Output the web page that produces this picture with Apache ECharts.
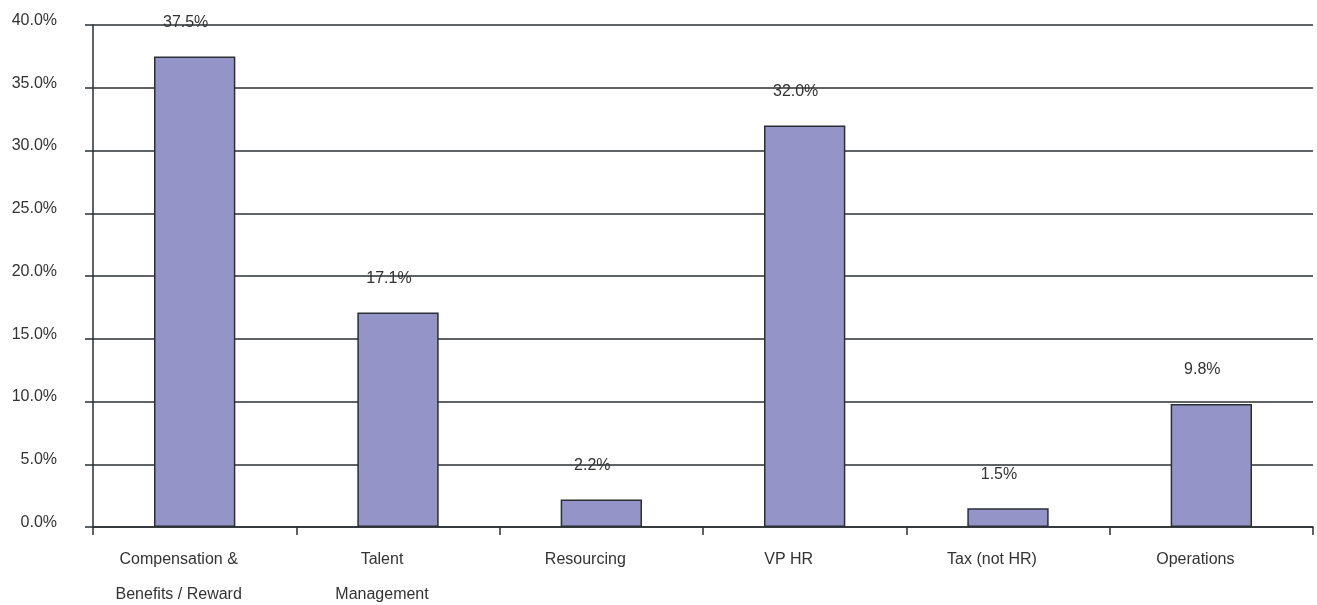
<!DOCTYPE html>
<html>
<head>
<meta charset="utf-8">
<script src="https://cdn.jsdelivr.net/npm/echarts@6/dist/echarts.min.js"></script>
<style>
  html, body { margin: 0; padding: 0; background: #ffffff; }
  #chart { width: 1317px; height: 605px; }
</style>
</head>
<body>
<div id="chart"></div>
<script>
// Share of respondents by HR function
const categories = [
  'Compensation &\nBenefits / Reward',
  'Talent\nManagement',
  'Resourcing',
  'VP HR',
  'Tax (not HR)',
  'Operations'
];
const shares = [37.5, 17.1, 2.2, 32.0, 1.5, 9.8];
const yMin = 0;
const yMax = 40;
const yStep = 5;

const textColor = '#333333';
const lineColor = '#2a2f33';
const fontFamily = '"Liberation Sans", Arial, sans-serif';

const chart = echarts.init(document.getElementById('chart'), null, { renderer: 'canvas' });
chart.setOption({
  animation: false,
  backgroundColor: '#ffffff',
  grid: {
    left: 93, right: 4, top: 25, bottom: 78,
    containLabel: false,
    outerBoundsMode: 'none'
  },
  xAxis: {
    type: 'category',
    data: categories,
    boundaryGap: true,
    axisLine: { show: true, lineStyle: { color: lineColor, width: 1.5 } },
    axisTick: { show: true, alignWithLabel: false, length: 8, lineStyle: { color: lineColor, width: 1.5 } },
    axisLabel: {
      color: textColor,
      fontFamily: fontFamily,
      fontSize: 16,
      lineHeight: 35,
      margin: 15,
      interval: 0,
      padding: [0, 32, 0, 0]
    }
  },
  yAxis: {
    type: 'value',
    min: yMin,
    max: yMax,
    interval: yStep,
    axisLine: { show: true, lineStyle: { color: lineColor, width: 1.5 } },
    axisTick: { show: true, length: 8, lineStyle: { color: lineColor, width: 1.5 } },
    splitLine: { show: true, lineStyle: { color: lineColor, width: 1.5 } },
    axisLabel: {
      color: textColor,
      fontFamily: fontFamily,
      fontSize: 16,
      margin: 36,
      verticalAlign: 'bottom',
      lineHeight: 9,
      formatter: v => v.toFixed(1) + '%'
    }
  },
  series: [{
    type: 'bar',
    data: shares,
    barWidth: '40%',
    itemStyle: { color: '#9494c8', borderColor: '#2a2f33', borderWidth: 1.5 },
    label: {
      show: true,
      position: 'top',
      distance: 26,
      offset: [-9, 0],
      color: textColor,
      fontFamily: fontFamily,
      fontSize: 16,
      formatter: p => p.value.toFixed(1) + '%'
    }
  }]
});
</script>
</body>
</html>
